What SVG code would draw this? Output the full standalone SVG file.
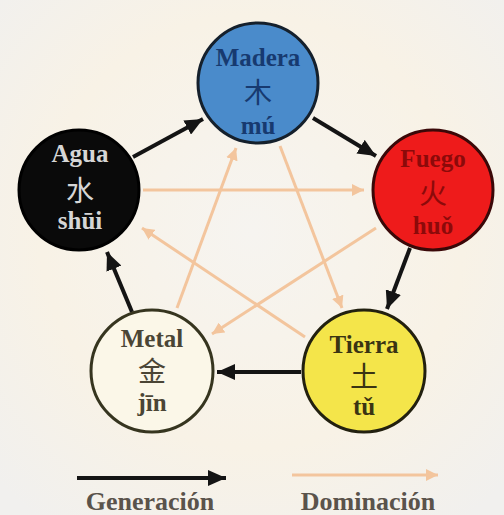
<svg xmlns="http://www.w3.org/2000/svg" width="504" height="515" viewBox="0 0 504 515">
<style>
.lbl{font-family:"Liberation Serif","Times New Roman",serif;font-weight:bold;font-size:25px;text-anchor:middle}
.cjk{font-family:"Noto Sans CJK SC","Noto Sans CJK JP",sans-serif;font-size:28px;text-anchor:middle}
.gen{stroke:#141414;stroke-width:4;fill:none;marker-end:url(#ah)}
.dom{stroke:#f3c59d;stroke-width:3;fill:none;marker-end:url(#ahd)}
.leg{font-family:"Liberation Serif","Times New Roman",serif;font-weight:bold;font-size:26px;fill:#5a534b;text-anchor:middle}
</style>
<defs>
<radialGradient id="bg" cx="0.5" cy="0.45" r="0.7">
<stop offset="0" stop-color="#f6f4f0"/>
<stop offset="0.6" stop-color="#f8f2e6"/>
<stop offset="1" stop-color="#f1f0ee"/>
</radialGradient>
<marker id="ah" markerUnits="userSpaceOnUse" markerWidth="20" markerHeight="16" refX="18" refY="8" orient="auto">
<path d="M0,0 L18,8 L0,16 Z" fill="#141414"/>
</marker>
<marker id="ahd" markerUnits="userSpaceOnUse" markerWidth="14" markerHeight="12" refX="12" refY="6" orient="auto">
<path d="M0,0 L12,6 L0,12 Z" fill="#f3c59d"/>
</marker>
</defs>
<rect width="504" height="515" fill="url(#bg)"/>
<g id="connectors">
<line class="dom" x1="143" y1="190" x2="364" y2="190"/>
<line class="dom" x1="280" y1="146" x2="342" y2="308"/>
<line class="dom" x1="376" y1="228" x2="212" y2="334"/>
<line class="dom" x1="177" y1="308" x2="236" y2="148"/>
<line class="dom" x1="305" y1="337" x2="142" y2="228"/>
<line class="gen" x1="133" y1="157" x2="203" y2="119"/>
<line class="gen" x1="313" y1="118" x2="376" y2="156"/>
<line class="gen" x1="410" y1="248" x2="387" y2="309"/>
<line class="gen" x1="301" y1="372" x2="217" y2="372"/>
<line class="gen" x1="132" y1="312" x2="107" y2="252"/>
</g>
<g id="madera">
<circle cx="258" cy="83" r="60" fill="#4a8bcb" stroke="#15202c" stroke-width="3"/>
<text class="lbl" x="258" y="66" fill="#173a70">Madera</text>
<text class="cjk" x="258" y="103" fill="#173a70">木</text>
<text class="lbl" x="258" y="134" fill="#173a70">mú</text>
</g>
<g id="fuego">
<circle cx="433" cy="190" r="60" fill="#ee1b1b" stroke="#3a0808" stroke-width="3"/>
<text class="lbl" x="433" y="167" fill="#8c0a0a">Fuego</text>
<text class="cjk" x="433" y="204" fill="#8c0a0a">火</text>
<text class="lbl" x="433" y="234" fill="#8c0a0a">huǒ</text>
</g>
<g id="tierra">
<circle cx="364" cy="371" r="61" fill="#f4e54a" stroke="#22200f" stroke-width="3"/>
<text class="lbl" x="364" y="353" fill="#3a3413">Tierra</text>
<text class="cjk" x="364" y="387" fill="#3a3413">土</text>
<text class="lbl" x="364" y="415" fill="#3a3413">tǔ</text>
</g>
<g id="metal">
<circle cx="152" cy="371" r="61" fill="#fbf7e8" stroke="#36351f" stroke-width="3"/>
<text class="lbl" x="152" y="347" fill="#4a4535">Metal</text>
<text class="cjk" x="152" y="382" fill="#4a4535">金</text>
<text class="lbl" x="152" y="411" fill="#4a4535">jīn</text>
</g>
<g id="agua">
<circle cx="79" cy="190" r="60" fill="#0a0a0a" stroke="#000" stroke-width="3"/>
<text class="lbl" x="80" y="162" fill="#d6d6d6">Agua</text>
<text class="cjk" x="80" y="201" fill="#d6d6d6">水</text>
<text class="lbl" x="80" y="229" fill="#d6d6d6">shūi</text>
</g>
<g id="legend">
<line x1="77" y1="478" x2="226" y2="478" stroke="#141414" stroke-width="4" marker-end="url(#ah)"/>
<text class="leg" x="150" y="510">Generación</text>
<line x1="292" y1="475" x2="438" y2="475" stroke="#f3c59d" stroke-width="3" marker-end="url(#ahd)"/>
<text class="leg" x="368" y="510">Dominación</text>
</g>
</svg>
